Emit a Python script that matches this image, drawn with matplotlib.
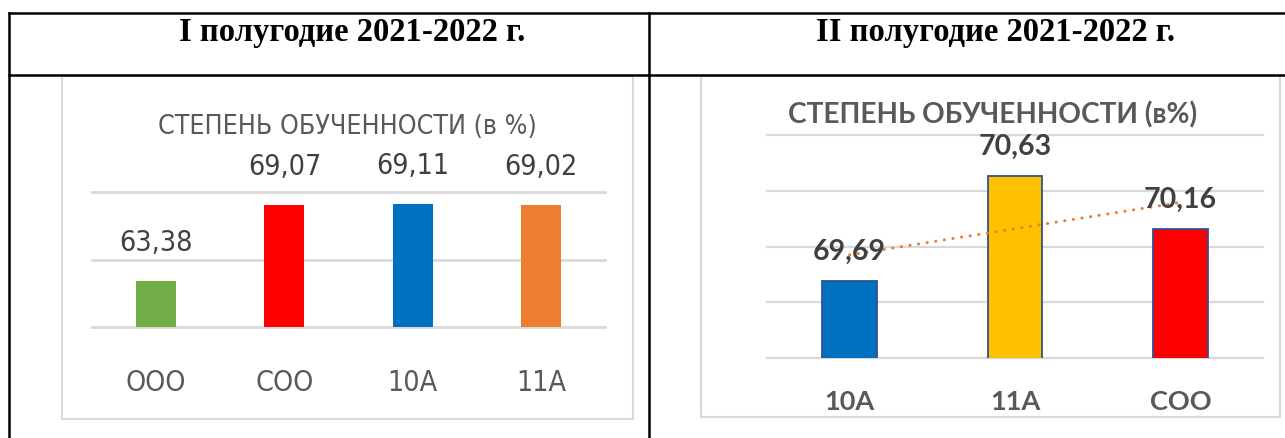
import matplotlib
matplotlib.use('Agg')
from matplotlib import pyplot as plt
from matplotlib.patches import Rectangle
import numpy as np

# data
headers = ['I полугодие 2021-2022 г.', 'II полугодие 2021-2022 г.']
title1 = 'СТЕПЕНЬ ОБУЧЕННОСТИ (в %)'
cats1 = ['ООО', 'СОО', '10А', '11А']
vals1 = [63.38, 69.07, 69.11, 69.02]
cols1 = ['#70AD47', '#FF0000', '#0070C0', '#ED7D31']
title2 = 'СТЕПЕНЬ ОБУЧЕННОСТИ (в%)'
cats2 = ['10А', '11А', 'СОО']
vals2 = [69.69, 70.63, 70.16]
cols2 = ['#0070C0', '#FFC000', '#FF0000']

W, H = 1285, 438
fig = plt.figure(figsize=(W/100, H/100), dpi=100)

def px_axes(x0, y0, x1, y1):
    # pixel box (top-left origin) -> figure axes
    return fig.add_axes([x0/W, 1 - y1/H, (x1-x0)/W, (y1-y0)/H])

# table + chart frames
bg = fig.add_axes([0, 0, 1, 1])
bg.set_xlim(0, W); bg.set_ylim(H, 0); bg.axis('off')
bg.plot([9, W], [13, 13], c='k', lw=1.8)
bg.plot([9, W], [74.5, 74.5], c='k', lw=1.8)
bg.plot([9, 9], [13, H], c='k', lw=1.8)
bg.plot([649, 649], [13, H], c='k', lw=1.8)
bg.add_patch(Rectangle((62, 76), 571, 343, fill=False, ec='#D9D9D9', lw=1.5))
bg.add_patch(Rectangle((701, 76), 579, 341, fill=False, ec='#D9D9D9', lw=1.5))
hfont = dict(family='Liberation Serif', weight='bold', size=23.5, color='k')
bg.text(352, 33, headers[0], ha='center', va='center', **hfont)
bg.text(995, 33, headers[1], ha='center', va='center', **hfont)

narrow = dict(family='DejaVu Sans', stretch='condensed')
bold = ['Lato', 'DejaVu Sans']

# left chart
bg.text(347, 127, title1, ha='center', va='center', size=19.2, color='#595959', **narrow)
ax1 = px_axes(92, 192, 605, 327)
x1 = np.arange(len(cats1))
ax1.bar(x1, vals1, width=0.31, color=cols1, zorder=2)
ax1.set_xlim(-0.5, len(cats1) - 0.5)
ax1.set_ylim(60, 70)
ax1.set_yticks([60, 65, 70])
ax1.yaxis.grid(True, color='#D9D9D9', lw=2)
for gl in ax1.get_ygridlines():
    gl.set_clip_on(False)
ax1.set_axisbelow(True)
ax1.tick_params(left=False, labelleft=False, bottom=False)
ax1.set_xticks(x1)
ax1.set_xticklabels(cats1, size=20.5, color='#595959', va='center', **narrow)
ax1.tick_params(axis='x', pad=37)
for s in ax1.spines.values():
    s.set_visible(False)
for xi, v in zip(x1, vals1):
    ax1.annotate(f'{v:.2f}'.replace('.', ','), (xi, v), xytext=(0, 38), textcoords='offset pixels',
                 ha='center', va='center', size=20.5, color='#404040', **narrow)

# right chart
bg.text(993, 115, title2, ha='center', va='center', family=bold, weight='bold', size=20.2, color='#595959')
ax2 = px_axes(767, 135, 1263, 358)
x2 = np.arange(len(cats2))
ax2.bar(x2, vals2, width=0.33, color=cols2, edgecolor='#2F528F', lw=1.3, zorder=2)
ax2.set_xlim(-0.5, len(cats2) - 0.5)
ax2.set_ylim(69, 71)
ax2.set_yticks([69, 69.5, 70, 70.5, 71])
ax2.yaxis.grid(True, color='#D9D9D9', lw=1.6)
for gl in ax2.get_ygridlines():
    gl.set_clip_on(False)
ax2.set_axisbelow(True)
ax2.tick_params(left=False, labelleft=False, bottom=False)
ax2.set_xticks(x2)
ax2.set_xticklabels(cats2, family=bold, weight='bold', size=19.5, color='#595959', va='center')
ax2.tick_params(axis='x', pad=28)
for s in ax2.spines.values():
    s.set_visible(False)
coef = np.polyfit(x2, vals2, 1)
xt = np.array([x2[0], x2[-1]])
ax2.plot(xt, np.polyval(coef, xt), color='#ED7D31', lw=2.2, linestyle=(0, (0.05, 2.8)),
         dash_capstyle='round', zorder=3)
for xi, v in zip(x2, vals2):
    ax2.annotate(f'{v:.2f}'.replace('.', ','), (xi, v), xytext=(0, 29), textcoords='offset pixels',
                 ha='center', va='center', family=bold, weight='bold', size=20.5, color='#404040', zorder=4)

fig.savefig('out.png', dpi=100)
